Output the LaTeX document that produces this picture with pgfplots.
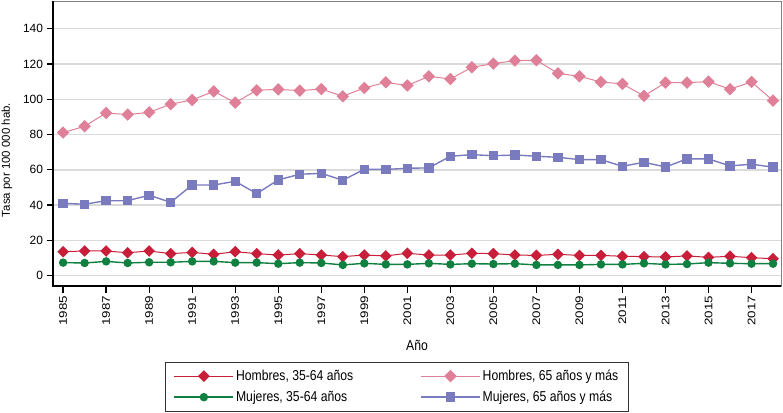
\documentclass[border=0pt]{standalone}
\usepackage{fontspec}
\setmainfont[FakeStretch=0.85]{Liberation Sans}
\newfontfamily\rotfont[FakeStretch=1.22]{Liberation Sans}
\newfontfamily\plainfont{Liberation Sans}
\usepackage{pgfplots}
\usepackage{pgfplotstable}
\pgfplotsset{compat=1.18}
\definecolor{cRed}{HTML}{C81E3A}
\definecolor{cPink}{HTML}{E08098}
\definecolor{cGreen}{HTML}{108040}
\definecolor{cBlue}{HTML}{7A7ABE}
\definecolor{cGrid}{HTML}{DADADA}
\pgfplotstableread{
year hm hm65 mj mj65
1985 13.6 81.1 7.4 41.0
1986 14.0 84.7 7.2 40.5
1987 14.0 92.2 8.1 42.5
1988 13.0 91.3 7.2 42.5
1989 14.0 92.6 7.6 45.6
1990 12.5 97.2 7.6 41.6
1991 13.2 99.6 8.1 51.4
1992 12.1 104.5 8.1 51.4
1993 13.6 98.1 7.4 53.5
1994 12.5 105.1 7.4 46.5
1995 11.7 105.6 6.8 54.3
1996 12.5 104.9 7.4 57.5
1997 11.7 105.8 7.2 58.0
1998 10.8 101.7 6.1 54.1
1999 11.7 106.4 7.0 60.3
2000 11.2 109.6 6.4 60.2
2001 12.7 107.8 6.4 60.9
2002 11.7 113.0 7.0 61.1
2003 11.7 111.5 6.4 67.7
2004 12.7 118.1 6.8 68.6
2005 12.5 120.2 6.6 68.0
2006 11.7 121.9 6.8 68.4
2007 11.5 122.1 6.1 67.7
2008 12.1 114.7 6.1 67.1
2009 11.5 113.0 6.1 65.8
2010 11.5 109.8 6.4 65.8
2011 11.0 108.7 6.4 62.0
2012 10.8 101.9 7.0 64.3
2013 10.6 109.4 6.4 61.6
2014 11.2 109.4 6.6 66.2
2015 10.4 110.0 7.4 66.2
2016 11.0 105.7 7.0 62.2
2017 10.2 109.8 6.8 63.2
2018 9.6 99.2 6.8 61.5
}\datatable
\begin{document}
\begin{tikzpicture}
\begin{axis}[
  name=ax,
  scale only axis,
  width=728bp, height=285bp,
  xmin=1984.53, xmax=2018.37,
  ymin=-5.85, ymax=155.7,
  xtick={1985,1987,...,2017},
  ytick={0,20,...,140},
  /pgf/number format/assume math mode=true,
  /pgf/number format/1000 sep={},
  xticklabel style={rotate=90, anchor=east, font=\rotfont\fontsize{11}{12}\selectfont},
  yticklabel style={font=\plainfont\fontsize{12}{13}\selectfont},
  tick align=outside,
  xtick pos=bottom, ytick pos=left,
  major tick length=6.5bp,
  tick style={black, line width=1.3bp},
  axis line style={draw=gray, line width=0.7bp},
  ymajorgrids,
  grid style={cGrid, line width=1.4bp},
  xlabel={Año},
  ylabel={Tasa por 100 000 hab.},
  xlabel style={at={(rel axis cs:0.5,-0.207)}, anchor=center, font=\fontsize{14.4}{16}\selectfont},
  ylabel style={at={(rel axis cs:-0.0633,0.442)}, anchor=center, font=\plainfont\fontsize{11.5}{12}\selectfont},
  legend columns=2,
  legend style={at={(rel axis cs:0.4725,-0.2656)}, anchor=north, draw=black!80, line width=0.8bp,
    font=\fontsize{14.4}{16}\selectfont, inner xsep=8bp, inner ysep=6bp,
    row sep=5bp,
    /tikz/every even column/.append style={column sep=65bp}},
  legend cell align=left,
  legend image code/.code={\draw[mark repeat=2,mark phase=2,#1] plot coordinates {(0bp,0bp) (29.5bp,0bp) (59bp,0bp)};},
  after end axis/.code={\draw[black, line width=1.8bp] (rel axis cs:0,1) -- (rel axis cs:0,0) -- (rel axis cs:1,0);},
]
\addplot[cRed, line width=1bp, mark=square*, mark size=3.6bp, mark options={rotate=45, fill=cRed, draw=cRed}] table[x=year, y=hm] {\datatable};
\addlegendentry{Hombres, 35-64 años}
\addplot[cPink, line width=1bp, mark=square*, mark size=3.9bp, mark options={rotate=45, fill=cPink, draw=cPink}] table[x=year, y=hm65] {\datatable};
\addlegendentry{Hombres, 65 años y más}
\addplot[cGreen, line width=1.4bp, mark=*, mark size=3.5bp, mark options={fill=cGreen, draw=cGreen}] table[x=year, y=mj] {\datatable};
\addlegendentry{Mujeres, 35-64 años}
\addplot[cBlue, line width=1.4bp, mark=square*, mark size=4bp, mark options={fill=cBlue, draw=cBlue}] table[x=year, y=mj65] {\datatable};
\addlegendentry{Mujeres, 65 años y más}
\end{axis}
\pgfresetboundingbox
\path[use as bounding box] ([shift={(-53bp,-127bp)}]ax.south west) rectangle ([shift={(2bp,1bp)}]ax.north east);
\end{tikzpicture}
\end{document}
